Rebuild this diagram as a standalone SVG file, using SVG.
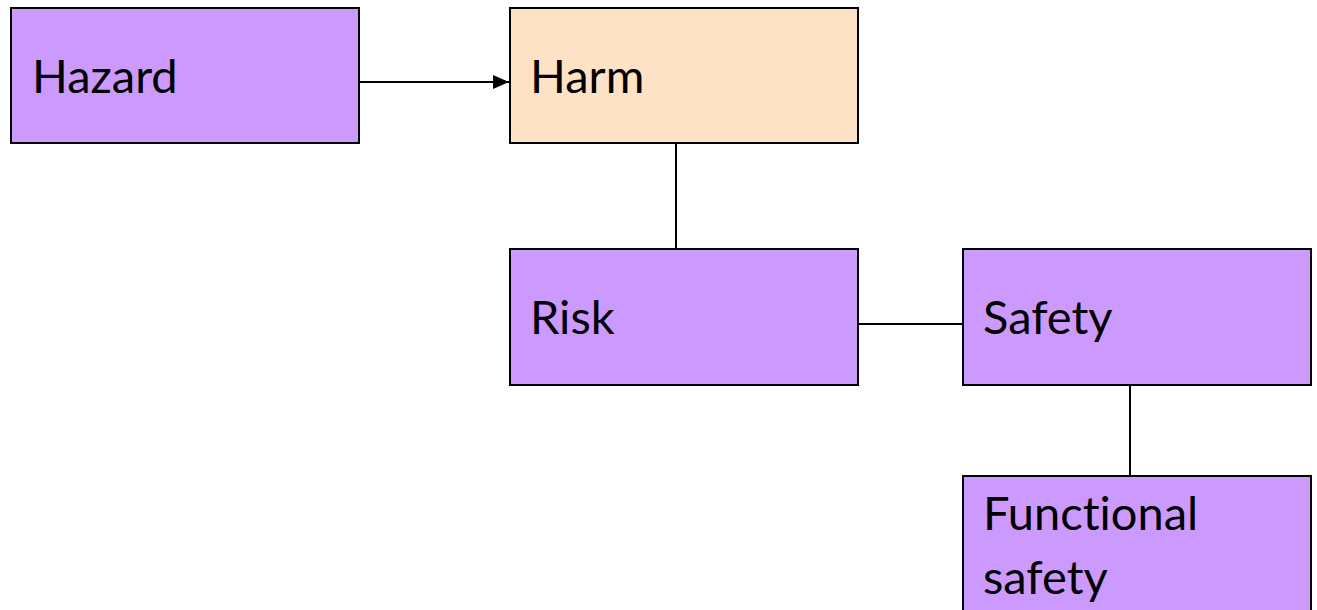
<svg xmlns="http://www.w3.org/2000/svg" width="1317" height="610" viewBox="0 0 1317 610">
  <style>
    .box { stroke: #000; stroke-width: 2; }
    .purple { fill: #CC99FF; }
    .peach { fill: #FDE2C6; }
    .lbl { font-family: Lato, "Open Sans", sans-serif; font-size: 47px; fill: #000; font-variant-ligatures: none; }
    .link { stroke: #000; stroke-width: 2; fill: none; }
  </style>
  <defs>
    <marker id="arrow" markerWidth="16" markerHeight="16" refX="16" refY="8" orient="auto" markerUnits="userSpaceOnUse">
      <path d="M0,1 L16,8 L0,15 Z" fill="#000"/>
    </marker>
  </defs>
  <rect width="1317" height="610" fill="#fff"/>

  <g id="connectors">
    <line class="link" x1="359" y1="82" x2="509" y2="82" marker-end="url(#arrow)"/>
    <line class="link" x1="676" y1="143" x2="676" y2="249"/>
    <line class="link" x1="858" y1="324" x2="963" y2="324"/>
    <line class="link" x1="1130" y1="385" x2="1130" y2="476"/>
  </g>

  <g id="hazard">
    <rect class="box purple" x="11" y="8" width="348" height="135"/>
    <text class="lbl" x="32" y="93">Hazard</text>
  </g>
  <g id="harm">
    <rect class="box peach" x="510" y="8" width="348" height="135"/>
    <text class="lbl" x="530" y="93">Harm</text>
  </g>
  <g id="risk">
    <rect class="box purple" x="510" y="249" width="348" height="136"/>
    <text class="lbl" x="530" y="334">Risk</text>
  </g>
  <g id="safety">
    <rect class="box purple" x="963" y="249" width="348" height="136"/>
    <text class="lbl" x="983" y="334">Safety</text>
  </g>
  <g id="functional-safety">
    <rect class="box purple" x="963" y="476" width="348" height="150"/>
    <text class="lbl" x="983" y="530">Functional</text>
    <text class="lbl" x="983" y="594">safety</text>
  </g>
</svg>
